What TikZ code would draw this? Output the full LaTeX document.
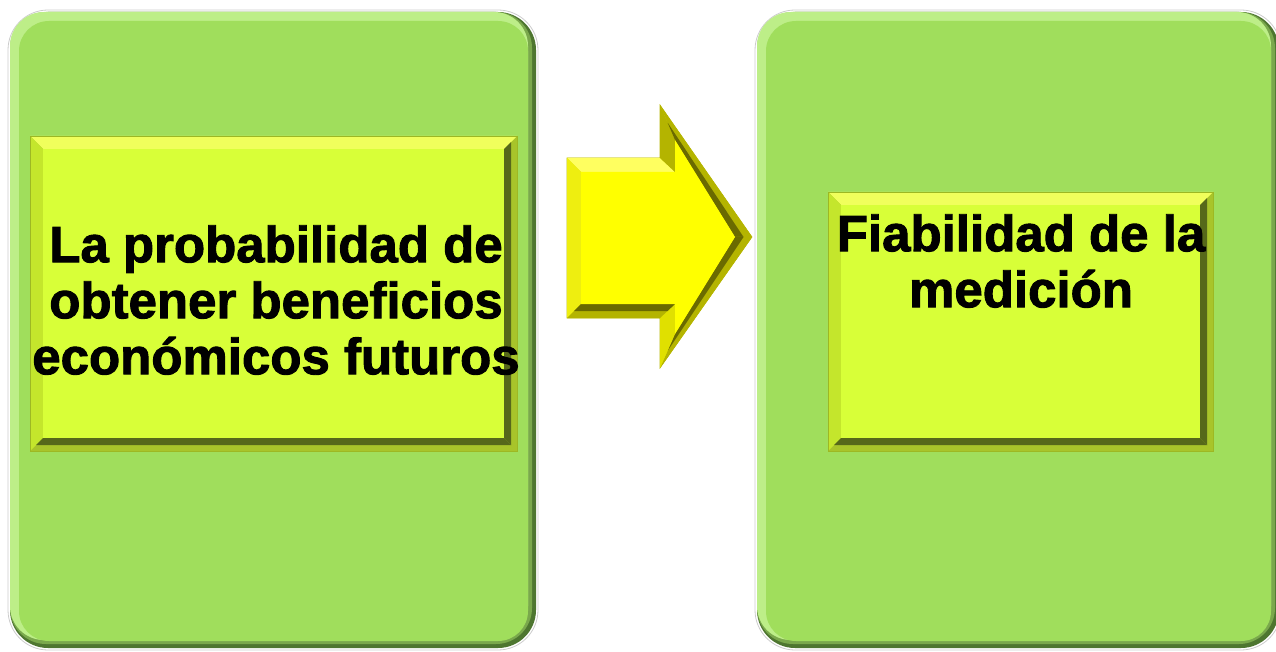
\documentclass[tikz,border=0pt]{standalone}
\usepackage{fontspec}
\setmainfont{Liberation Sans}[BoldFeatures={FakeBold=1.8}]
\definecolor{gface}{HTML}{A0DE5C}
\definecolor{glite}{HTML}{BDEE88}
\definecolor{gmid}{HTML}{7AA84C}
\definecolor{gdark}{HTML}{4E7630}
\definecolor{yface}{HTML}{D8FF38}
\definecolor{ytop}{HTML}{F0FF5C}
\definecolor{yleft}{HTML}{C4E62C}
\definecolor{ymid}{HTML}{A8C42A}
\definecolor{ydark}{HTML}{56681A}
\definecolor{aface}{HTML}{FFFF00}
\definecolor{atop}{HTML}{FFFF60}
\definecolor{aleft}{HTML}{EEEE10}
\definecolor{amid}{HTML}{B4B400}
\definecolor{adark}{HTML}{6A6A00}
\definecolor{aedge}{HTML}{E0E000}
\newcommand\gbox[4]{%
  \filldraw[draw=black!20,line width=0.8pt,fill=white,rounded corners=40pt] (#1-2,#2-2) rectangle (#3+2,#4+2);
  \fill[gdark,rounded corners=38pt] (#1,#2) rectangle (#3,#4);
  \fill[gmid,rounded corners=36pt] (#1,#2) rectangle (#3-4,#4-4);
  \fill[glite,rounded corners=34pt] (#1,#2) rectangle (#3-8,#4-8);
  \fill[gface,rounded corners=30pt] (#1+9,#2+9) rectangle (#3-8,#4-7);
}
\newcommand\ybox[4]{%
  \fill[ymid] (#1,#2) rectangle (#3,#4);
  \fill[ytop] (#1,#2) -- (#3,#2) -- (#3-13,#2+13) -- (#1+13,#2+13) -- cycle;
  \fill[yleft] (#1,#2) -- (#1+13,#2+13) -- (#1+13,#4-13) -- (#1,#4) -- cycle;
  \fill[ydark] (#3-6,#2+6) -- (#3-6,#4-6) -- (#3-13,#4-13) -- (#3-13,#2+13) -- cycle;
  \fill[ydark] (#1+6,#4-6) -- (#3-6,#4-6) -- (#3-13,#4-13) -- (#1+13,#4-13) -- cycle;
  \fill[yface] (#1+13,#2+13) rectangle (#3-13,#4-13);
  \draw[yleft!80!black,line width=0.5pt] (#1,#2) rectangle (#3,#4);
}
\tikzset{txt/.style={font=\fontsize{51}{56}\selectfont\bfseries,align=center,inner sep=0pt,text=black}}
\begin{document}
\begin{tikzpicture}[x=1pt,y=-1pt]
\useasboundingbox (0,0) rectangle (1276,652);
% green panels
\gbox{10}{12}{536}{648}
\gbox{757}{12}{1279}{648}
% inner yellow boxes
\ybox{30}{136}{517}{451}
\ybox{828}{192}{1213}{451}
% arrow
\filldraw[fill=aedge,draw=amid,line width=0.6pt]
  (567,158) -- (660,158) -- (660,105) -- (752,237) -- (660,368) -- (660,318) -- (567,318) -- cycle;
\fill[atop] (567,158) -- (660,158) -- (675,172) -- (581,172) -- cycle;
\fill[aleft] (567,158) -- (581,172) -- (581,304) -- (567,318) -- cycle;
\fill[amid] (660,158) -- (660,105) -- (675,140) -- (675,172) -- cycle;
\fill[amid] (660,105) -- (752,237) -- (735,237) -- (675,140) -- cycle;
\fill[adark] (667.5,122.5) -- (743.5,237) -- (735,237) -- (675,140) -- cycle;
\fill[amid] (752,237) -- (660,368) -- (675,334) -- (735,237) -- cycle;
\fill[adark] (743.5,237) -- (667.5,351) -- (675,334) -- (735,237) -- cycle;
\fill[aedge] (660,368) -- (660,318) -- (675,304) -- (675,334) -- cycle;
\fill[amid] (660,318) -- (567,318) -- (581,304) -- (675,304) -- cycle;
\fill[adark] (667.5,311) -- (574,311) -- (581,304) -- (675,304) -- cycle;
\fill[aface] (581,172) -- (675,172) -- (675,140) -- (735,237) -- (675,334) -- (675,304) -- (581,304) -- cycle;
% texts
\node[txt] (t1) at (276,300) {La probabilidad de\\obtener beneficios\\económicos futuros};
\node[txt] (t2) at (1021,261) {Fiabilidad de la\\medición};
\end{tikzpicture}
\end{document}
